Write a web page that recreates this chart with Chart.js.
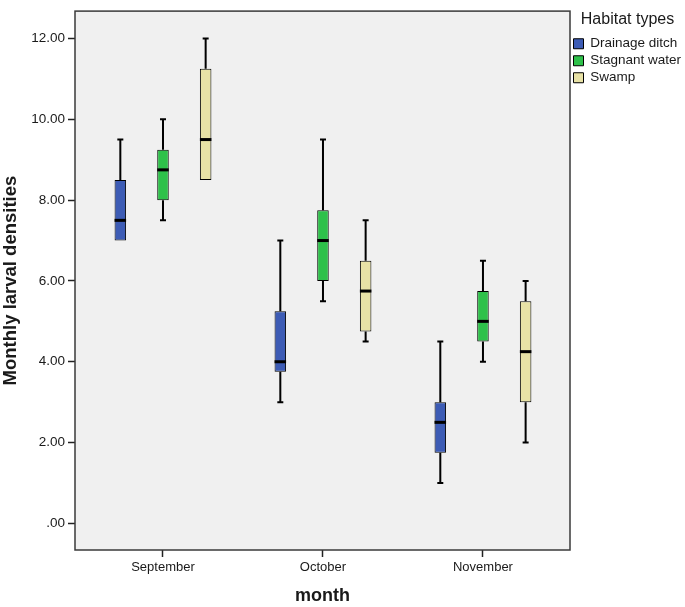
<!DOCTYPE html>
<html>
<head>
<meta charset="utf-8">
<title>Monthly larval densities</title>
<script src="https://cdn.jsdelivr.net/npm/chart.js@4/dist/chart.umd.min.js"></script>
<style>
    html, body { margin: 0; padding: 0; background: #ffffff; }
    #wrap { width: 685px; height: 607px; }
</style>
</head>
<body>
<div id="wrap"><canvas id="boxChart" width="685" height="607"></canvas></div>
<script>
// ---- data (min, q1, median, q3, max) per month ----
const months   = ['September', 'October', 'November'];
const habitats = ['Drainage ditch', 'Stagnant water', 'Swamp'];

const drainageDitch = [[7.0, 7.0, 7.5, 8.5, 9.5], [3.0, 3.75, 4.0, 5.25, 7.0], [1.0, 1.75, 2.5, 3.0, 4.5]];
const stagnantWater = [[7.5, 8.0, 8.75, 9.25, 10.0], [5.5, 6.0, 7.0, 7.75, 9.5], [4.0, 4.5, 5.0, 5.75, 6.5]];
const swamp         = [[8.5, 8.5, 9.5, 11.25, 12.0], [4.5, 4.75, 5.75, 6.5, 7.5], [2.0, 3.0, 4.25, 5.5, 6.0]];

const yTicks = [0, 2, 4, 6, 8, 10, 12];

const habitatStats  = [drainageDitch, stagnantWater, swamp];
const habitatColors = ['#3d5cb5', '#2ec14a', '#e8e2a6'];

const FONT = '"Liberation Sans", Arial, sans-serif';
const INK  = '#1a1a1a';

/* plot background + frame */
const framePlugin = {
    id: 'frame',
    beforeDraw(chart) {
        const a = chart.chartArea;
        const ctx = chart.ctx;
        ctx.save();
        ctx.fillStyle = '#f0f0f0';
        ctx.fillRect(a.left, a.top, a.right - a.left, a.bottom - a.top);
        ctx.restore();
    },
    afterDraw(chart) {
        const a = chart.chartArea;
        const ctx = chart.ctx;
        ctx.save();
        ctx.strokeStyle = '#3a3a3a';
        ctx.lineWidth = 1.5;
        ctx.strokeRect(a.left, a.top, a.right - a.left, a.bottom - a.top);
        ctx.restore();
    }
};

/* whiskers, caps and medians on top of the boxes */
const whiskerPlugin = {
    id: 'whiskers',
    afterDatasetsDraw(chart) {
        const ctx = chart.ctx;
        const yScale = chart.scales.y;
        ctx.save();
        ctx.strokeStyle = '#000';
        habitatStats.forEach((stats, d) => {
            const meta = chart.getDatasetMeta(d);
            meta.data.forEach((bar, i) => {
                const [mn, q1, med, q3, mx] = stats[i];
                const x = bar.x;
                const half = bar.width / 2;

                ctx.lineWidth = 2;
                ctx.beginPath();
                if (mx > q3) {
                    ctx.moveTo(x, yScale.getPixelForValue(q3));
                    ctx.lineTo(x, yScale.getPixelForValue(mx));
                    ctx.moveTo(x - 3, yScale.getPixelForValue(mx));
                    ctx.lineTo(x + 3, yScale.getPixelForValue(mx));
                }
                if (mn < q1) {
                    ctx.moveTo(x, yScale.getPixelForValue(q1));
                    ctx.lineTo(x, yScale.getPixelForValue(mn));
                    ctx.moveTo(x - 3, yScale.getPixelForValue(mn));
                    ctx.lineTo(x + 3, yScale.getPixelForValue(mn));
                }
                ctx.stroke();

                ctx.lineWidth = 3;
                ctx.beginPath();
                ctx.moveTo(x - half, yScale.getPixelForValue(med));
                ctx.lineTo(x + half, yScale.getPixelForValue(med));
                ctx.stroke();
            });
        });
        ctx.restore();
    }
};

const datasets = habitats.map((name, d) => ({
    label: name,
    data: habitatStats[d].map((s, i) => ({ x: i + 1, y: [s[1], s[3]] })),
    backgroundColor: habitatColors[d],
    borderColor: '#000',
    borderWidth: 1,
    borderSkipped: false,
    barPercentage: 0.27,
    categoryPercentage: 0.8
}));

new Chart(document.getElementById('boxChart'), {
    type: 'bar',
    data: { datasets },
    options: {
        responsive: false,
        animation: false,
        layout: { padding: { top: 3, left: 0, right: 0, bottom: 0 } },
        plugins: {
            tooltip: { enabled: false },
            legend: {
                position: 'right',
                align: 'start',
                maxWidth: 115,
                title: {
                    display: true,
                    text: 'Habitat types',
                    color: INK,
                    font: { family: FONT, size: 16 },
                    padding: { top: 9, bottom: 2.3 }
                },
                labels: {
                    color: INK,
                    font: { family: FONT, size: 13.5 },
                    boxWidth: 10,
                    boxHeight: 10,
                    padding: 3.5,
                    generateLabels: chart => chart.data.datasets.map((ds, i) => ({
                        text: ds.label,
                        fillStyle: ds.backgroundColor,
                        strokeStyle: '#000',
                        lineWidth: 1,
                        fontColor: INK,
                        datasetIndex: i
                    }))
                }
            }
        },
        scales: {
            x: {
                type: 'linear',
                offset: false,
                min: 0.45,
                max: 3.544,
                afterBuildTicks: axis => {
                    axis.ticks = months.map((m, i) => ({ value: i + 1 }));
                },
                afterFit: axis => { axis.height = 57; },
                ticks: {
                    color: INK,
                    font: { family: FONT, size: 13 },
                    padding: 3,
                    callback: v => months[v - 1]
                },
                grid: {
                    offset: false,
                    drawOnChartArea: false,
                    drawTicks: true,
                    tickLength: 7,
                    tickColor: '#222',
                    tickWidth: 1.5
                },
                border: { display: false },
                title: {
                    display: true,
                    text: 'month',
                    color: INK,
                    font: { family: FONT, size: 18, weight: 'bold' },
                    padding: { top: 0, bottom: 0 }
                }
            },
            y: {
                min: -0.66,
                max: 12.68,
                afterBuildTicks: axis => {
                    axis.ticks = yTicks.map(v => ({ value: v }));
                },
                afterFit: axis => { axis.width = 75; },
                ticks: {
                    color: INK,
                    font: { family: FONT, size: 13.5 },
                    padding: 3,
                    callback: v => (v === 0 ? '.00' : v.toFixed(2))
                },
                grid: {
                    drawOnChartArea: false,
                    drawTicks: true,
                    tickLength: 7,
                    tickColor: '#222',
                    tickWidth: 1.5
                },
                border: { display: false },
                title: {
                    display: true,
                    text: 'Monthly larval densities',
                    color: INK,
                    font: { family: FONT, size: 18.5, weight: 'bold' },
                    padding: { top: 0, bottom: 0 }
                }
            }
        }
    },
    plugins: [framePlugin, whiskerPlugin]
});
</script>
</body>
</html>
